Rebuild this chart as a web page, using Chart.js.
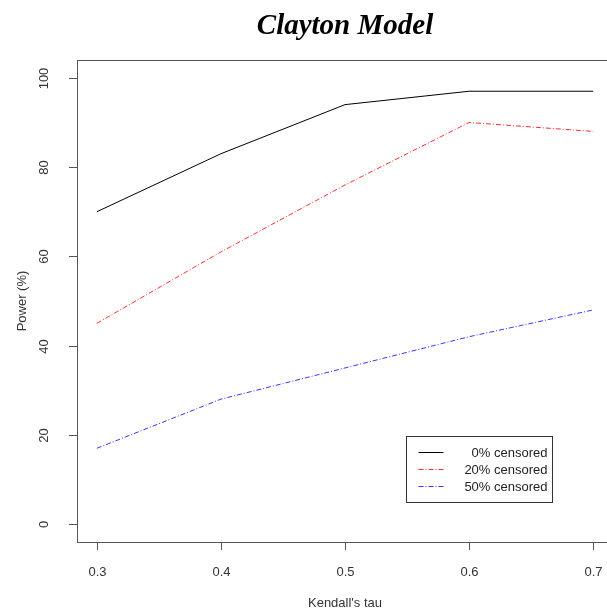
<!DOCTYPE html>
<html>
<head>
<meta charset="utf-8">
<script src="https://cdn.jsdelivr.net/npm/chart.js@4"></script>
<style>
html,body{margin:0;padding:0;background:#fff;overflow:hidden;}
canvas{display:block;}
</style>
</head>
<body>
<canvas id="c" width="614" height="615"></canvas>
<script>
const tau = [0.3, 0.4, 0.5, 0.6, 0.7];
const cens0 = [70, 83, 94, 97, 97];
const cens20 = [45, 61, 76, 90, 88];
const cens50 = [17, 28, 35, 42, 48];
const seriesNames = ["0% censored", "20% censored", "50% censored"];
const xTicks = [0.3, 0.4, 0.5, 0.6, 0.7];
const yTicks = [0, 20, 40, 60, 80, 100];
const titleText = "Clayton Model";
const xTitle = "Kendall's tau";
const yTitle = "Power (%)";

const colors = ["#000000", "#ff3030", "#3838ff"];
const dashes = [[], [5, 2, 1, 2], [5, 2, 1, 2]];

function pts(ys){ return tau.map((x,i)=>({x:x, y:ys[i]})); }

const rPlot = {
  id: 'rPlot',
  afterDraw(chart){
    const ctx = chart.ctx, a = chart.chartArea;
    const xs = chart.scales.x, ys = chart.scales.y;
    ctx.save();
    ctx.strokeStyle = '#555';
    ctx.lineWidth = 1;
    ctx.strokeRect(Math.round(a.left)+0.5, Math.round(a.top)+0.5, Math.round(a.right-a.left), Math.round(a.bottom-a.top));
    ctx.fillStyle = '#333';
    ctx.font = '13px "Liberation Sans", Arial, sans-serif';
    ctx.textAlign = 'center'; ctx.textBaseline = 'middle';
    xTicks.forEach(v=>{
      const px = Math.round(xs.getPixelForValue(v))+0.5;
      ctx.beginPath(); ctx.moveTo(px, a.bottom); ctx.lineTo(px, a.bottom+8); ctx.stroke();
      ctx.fillText(String(v), px, a.bottom+30);
    });
    yTicks.forEach(v=>{
      const py = Math.round(ys.getPixelForValue(v))+0.5;
      ctx.beginPath(); ctx.moveTo(a.left, py); ctx.lineTo(a.left-8, py); ctx.stroke();
      ctx.save(); ctx.translate(a.left-33, py); ctx.rotate(-Math.PI/2);
      ctx.fillText(String(v), 0, 0); ctx.restore();
    });
    ctx.fillText(xTitle, (a.left+a.right)/2, a.bottom+61);
    ctx.save(); ctx.translate(22, (a.top+a.bottom)/2); ctx.rotate(-Math.PI/2);
    ctx.fillText(yTitle, 0, 0); ctx.restore();
    ctx.fillStyle = '#000';
    ctx.font = 'italic bold 29px "Liberation Serif", "Times New Roman", serif';
    ctx.fillText(titleText, (a.left+a.right)/2, 27);
    const bx = 406.5, by = 436.5, bw = 146, bh = 66;
    ctx.fillStyle = '#fff';
    ctx.fillRect(bx, by, bw, bh);
    ctx.strokeStyle = '#333';
    ctx.setLineDash([]);
    ctx.strokeRect(bx, by, bw, bh);
    ctx.font = '13px "Liberation Sans", Arial, sans-serif';
    ctx.textAlign = 'right';
    seriesNames.forEach((n,i)=>{
      const yy = by + 16 + i*17;
      ctx.strokeStyle = colors[i];
      ctx.setLineDash(dashes[i]);
      ctx.beginPath(); ctx.moveTo(bx+12, yy); ctx.lineTo(bx+37, yy); ctx.stroke();
      ctx.fillStyle = '#222';
      ctx.fillText(n, bx+141, yy+1);
    });
    ctx.restore();
  }
};

new Chart(document.getElementById('c'), {
  type: 'line',
  data: {
    datasets: [
      {label: seriesNames[0], data: pts(cens0), borderColor: colors[0], borderDash: dashes[0]},
      {label: seriesNames[1], data: pts(cens20), borderColor: colors[1], borderDash: dashes[1]},
      {label: seriesNames[2], data: pts(cens50), borderColor: colors[2], borderDash: dashes[2]}
    ].map(d=>Object.assign(d,{borderWidth:1, pointRadius:0, tension:0, fill:false}))
  },
  options: {
    responsive: false,
    animation: false,
    layout: {padding: {left: 77, top: 60, right: 1, bottom: 73}},
    plugins: {legend: {display:false}, title: {display:false}, tooltip: {enabled:false}},
    scales: {
      x: {type:'linear', min:0.284, max:0.716, display:false},
      y: {type:'linear', min:-4, max:104, display:false}
    }
  },
  plugins: [rPlot]
});
</script>
</body>
</html>
